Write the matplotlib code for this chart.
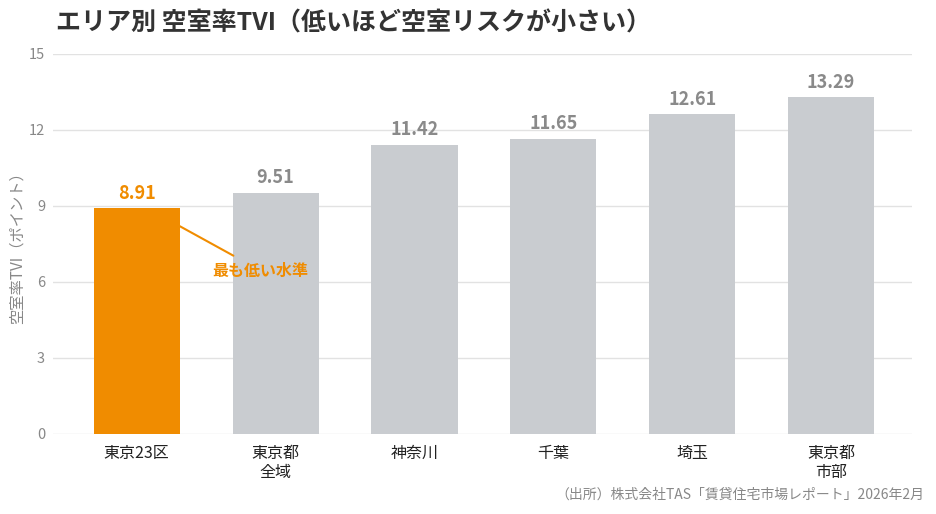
import matplotlib
matplotlib.use("Agg")
import matplotlib.pyplot as plt

plt.rcParams['font.family'] = ['Noto Sans CJK JP', 'DejaVu Sans']

areas = ["東京23区", "東京都\n全域", "神奈川", "千葉", "埼玉", "東京都\n市部"]
tvi = [8.91, 9.51, 11.42, 11.65, 12.61, 13.29]
yticks = [0, 3, 6, 9, 12, 15]

orange = "#F08C00"
gray = "#C9CCD0"
colors = [orange] + [gray] * (len(areas) - 1)

fig = plt.figure(figsize=(9.36, 5.14), dpi=100)
ax = fig.add_axes([0.057, 0.156, 0.917, 0.739])

x = range(len(areas))
bars = ax.bar(x, tvi, width=0.62, color=colors, zorder=2)

for i, (b, v) in enumerate(zip(bars, tvi)):
    ax.text(b.get_x() + b.get_width() / 2, v + 0.22, f"{v:.2f}",
            ha="center", va="bottom", fontsize=13, fontweight="bold",
            color=orange if i == 0 else "#8A8A8A")

ax.annotate("最も低い水準", xy=(0.31, 8.2), xytext=(0.89, 6.45),
            ha="center", va="center", fontsize=11.5, fontweight="bold", color=orange,
            arrowprops=dict(arrowstyle="-", color=orange, lw=1.5,
                            shrinkA=6, shrinkB=0))

ax.set_ylim(0, 15)
ax.set_xlim(-0.6, 5.58)
ax.set_yticks(yticks)
ax.set_xticks(list(x))
ax.set_xticklabels(areas, fontsize=11.5, color="#222222", linespacing=1.15)
ax.tick_params(axis="y", length=0, labelsize=10.5, labelcolor="#888888", pad=6)
ax.tick_params(axis="x", length=0, pad=8)
ax.grid(axis="y", color="#E2E2E2", lw=1, zorder=0)
for s in ax.spines.values():
    s.set_visible(False)
ax.set_ylabel("空室率TVI（ポイント）", fontsize=11, color="#888888", labelpad=2)

fig.text(0.06, 0.955, "エリア別 空室率TVI（低いほど空室リスクが小さい）",
         fontsize=18, fontweight="bold", color="#333333", ha="left", va="center")
fig.text(0.988, 0.038, "（出所）株式会社TAS「賃貸住宅市場レポート」2026年2月",
         fontsize=10, color="#888888", ha="right", va="center")

fig.savefig("out.png", dpi=100)
